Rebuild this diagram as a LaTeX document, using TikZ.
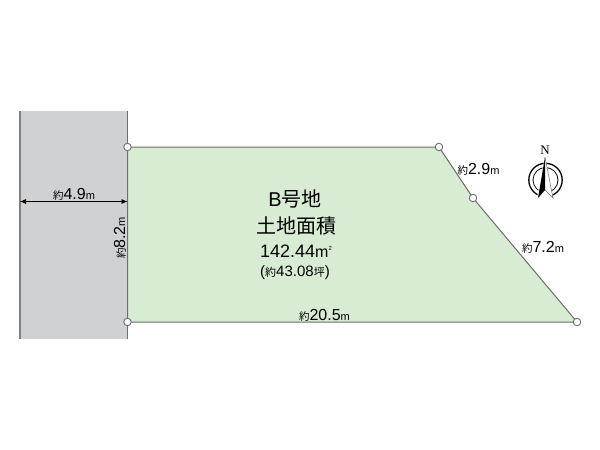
\documentclass[tikz,border=0pt]{standalone}
\usepackage{fontspec}
\setmainfont{Liberation Sans}
\newfontfamily\cjk{Noto Sans CJK JP}
\newfontfamily\serifn{Liberation Serif}
\usetikzlibrary{arrows.meta}
\newcommand{\dimlabel}[1]{{\cjk\fontsize{10.5}{10.5}\selectfont 約}{\fontsize{16}{16}\selectfont #1}{\fontsize{11}{11}\selectfont m}}
\definecolor{lotgreen}{HTML}{D8EBD3}
\definecolor{roadgray}{HTML}{D0D1D3}
\definecolor{linegray}{HTML}{6E6E6E}
\tikzset{
  edgeline/.style={draw=linegray, line width=1pt},
  corner/.style={circle, draw=linegray, fill=white, line width=0.9pt, minimum size=7.5pt, inner sep=0pt},
  dimtext/.style={inner sep=0pt, text=black},
  titletext/.style={inner sep=0pt, text=black, align=center},
}
\begin{document}
\begin{tikzpicture}[x=1pt,y=-1pt]
\useasboundingbox (0,0) rectangle (600,450);
\fill[white] (0,0) rectangle (600,450);
% road
\fill[roadgray] (20,111) rectangle (127.5,339);
\draw[draw=black!50, line width=1.2pt] (20,111) -- (20,339);
\draw[linegray, line width=1pt] (127.5,111) -- (127.5,339);
% lot
\coordinate (a) at (127.5,147);
\coordinate (b) at (439,147);
\coordinate (c) at (473,198);
\coordinate (d) at (577,322);
\coordinate (e) at (127.5,322);
\fill[lotgreen] (a) -- (b) -- (c) -- (d) -- (e) -- cycle;
\draw[edgeline] (a) -- (b) -- (c) -- (d) -- (e) -- cycle;
\node[corner] (na) at (a) {};
\node[corner] (nb) at (b) {};
\node[corner] (nc) at (c) {};
\node[corner] (nd) at (d) {};
\node[corner] (ne) at (e) {};
% dimension
\coordinate (dl) at (20,201.5);
\coordinate (dr) at (127.5,201.5);
\draw[black, line width=0.6pt, {Latex[length=6pt,width=5pt]}-{Latex[length=6pt,width=5pt]}] (dl) -- (dr);
\node[dimtext] (l49) at (74,194) {\dimlabel{4.9}};
\node[dimtext, rotate=90] (l82) at (120,238) {\dimlabel{8.2}};
\node[dimtext] (l29) at (478.5,169) {\dimlabel{2.9}};
\node[dimtext] (l72) at (543,247) {\dimlabel{7.2}};
\node[dimtext] (l205) at (324.5,315) {\dimlabel{20.5}};
% title
\node[titletext] (t1) at (295,199) {\fontsize{20}{20}\selectfont B{\cjk 号地}};
\node[titletext] (t2) at (296,226) {\cjk\fontsize{20}{20}\selectfont 土地面積};
\node[titletext] (t3) at (296,251) {\fontsize{18}{18}\selectfont 142.44{\fontsize{16}{16}\selectfont m}\raisebox{7pt}{\fontsize{6}{6}\selectfont 2}};
\node[titletext] (t4) at (295,273) {\fontsize{15}{15}\selectfont ({\cjk\fontsize{11}{11}\selectfont 約}43.08{\cjk\fontsize{11}{11}\selectfont 坪})};
% compass
\coordinate (cc) at (545.5,180);
\draw[black, line width=1.3pt] (cc) circle (16.7);
\draw[black, line width=0.8pt] (cc) circle (12.5);
\fill[white] (537,198) -- (545,157) -- (553,198) -- cycle;
\fill[black] (545,157) -- (538,198) -- (545,190) -- cycle;
\draw[black!60, line width=0.5pt] (545,157) -- (553,198) -- (545,190);
\node[inner sep=0pt] (north) at (545,150) {\serifn\fontsize{13}{13}\selectfont N};
\end{tikzpicture}
\end{document}
